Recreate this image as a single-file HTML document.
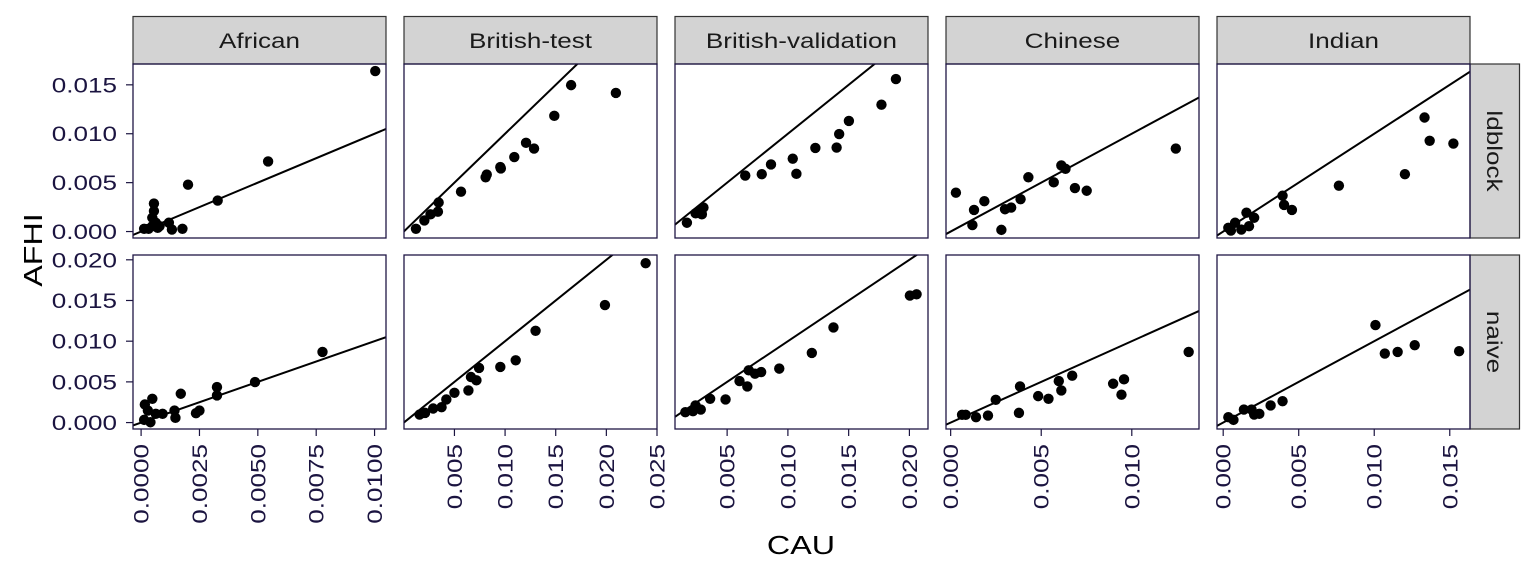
<!DOCTYPE html>
<html><head><meta charset="utf-8"><style>
html,body{margin:0;padding:0;background:#fff;}
svg{display:block;font-family:"Liberation Sans",Arial,sans-serif;}
</style></head><body>
<svg id="chart" width="1536" height="576" viewBox="0 0 1536 576"></svg>
<script>
const columns = ["African","British-test","British-validation","Chinese","Indian"];
const rows = ["ldblock","naive"];
const xTicks = [[0,0.0025,0.005,0.0075,0.01],[0.005,0.01,0.015,0.02,0.025],[0.005,0.01,0.015,0.02],[0,0.005,0.01],[0,0.005,0.01,0.015]];
const xTickLabels = [["0.0000","0.0025","0.0050","0.0075","0.0100"],["0.005","0.010","0.015","0.020","0.025"],["0.005","0.010","0.015","0.020"],["0.000","0.005","0.010"],["0.000","0.005","0.010","0.015"]];
const xDomains = [[-0.000347,0.01049],[0.00002,0.025],[0.00071,0.02153],[-0.000257,0.01371],[-0.00041,0.01634]];
const yTicks = [[0,0.005,0.01,0.015],[0,0.005,0.01,0.015,0.02]];
const yTickLabels = [["0.000","0.005","0.010","0.015"],["0.000","0.005","0.010","0.015","0.020"]];
const yDomains = [[-0.00066,0.01713],[-0.00079,0.02059]];
// points: [CAU, AFHI]
const r0c0 = [[.01003,.01641],[.00544,.00717],[.00201,.00479],[.00328,.00317],[.00055,.00286],[.00055,.0021],[.00048,.00141],[.00063,.0009],[.00071,.00038],[.00013,.00028],[.00032,.00028],[.00119,.0009],[.00132,.0002],[.00177,.00028],[.00079,.00055],[.00048,.00055]];
const r0c1 = [[.0012,.00028],[.00203,.00114],[.00264,.00176],[.00337,.00203],[.00344,.00297],[.00565,.00407],[.00808,.00555],[.00819,.00583],[.00953,.00659],[.00958,.00645],[.01091,.00762],[.01207,.00907],[.01286,.00848],[.01486,.01183],[.01652,.01497],[.02094,.01417]];
const r0c2 = [[.00169,.0009],[.00241,.00186],[.00275,.0021],[.00305,.00245],[.00292,.00176],[.00649,.00572],[.00785,.00586],[.00861,.00686],[.0104,.00745],[.0107,.0059],[.01226,.00855],[.01401,.00859],[.01422,.00997],[.01502,.01131],[.0177,.01297],[.01889,.01559]];
const r0c3 = [[.00029,.00397],[.0012,.00066],[.00129,.00221],[.00186,.0031],[.0028,.00017],[.003,.00228],[.00334,.00245],[.00386,.00331],[.00429,.00555],[.00569,.00503],[.00611,.00676],[.00634,.00641],[.00686,.00445],[.00751,.00417],[.01243,.00848]];
const r0c4 = [[.00034,.00038],[.00051,.0001],[.00079,.0009],[.0012,.0002],[.00154,.00193],[.00171,.00055],[.00205,.00141],[.00393,.00366],[.00403,.00272],[.00455,.00221],[.00766,.00469],[.01203,.00586],[.01333,.01166],[.01367,.00928],[.01524,.009]];
const r1c0 = [[.00013,.00033],[.00016,.00222],[.00048,.00292],[.0004,.00004],[.00029,.00148],[.00063,.00107],[.00092,.00107],[.00143,.00148],[.00147,.00058],[.0017,.00354],[.00235,.00115],[.0025,.00148],[.00325,.00333],[.00325,.00436],[.00488,.00498],[.00777,.00868]];
const r1c1 = [[.00156,.00099],[.0021,.00119],[.0029,.00173],[.00373,.00189],[.0042,.00284],[.005,.00366],[.00638,.00395],[.00663,.0056],[.00717,.00519],[.00743,.00671],[.00953,.00683],[.01105,.00765],[.01301,.01128],[.01986,.01444],[.02388,.01959]];
const r1c2 = [[.00156,.00128],[.00219,.0014],[.0024,.0021],[.00283,.0016],[.0036,.00292],[.00487,.00284],[.00602,.0051],[.00666,.00444],[.00678,.00642],[.00729,.00601],[.0078,.00621],[.00929,.00663],[.01197,.00856],[.01375,.01169],[.02004,.0156],[.02059,.01576]];
const r1c3 = [[.00063,.00095],[.00083,.00095],[.0014,.00066],[.00206,.00086],[.00249,.0028],[.00377,.00119],[.00383,.00444],[.00483,.00325],[.0054,.00292],[.00597,.0051],[.00611,.00395],[.00671,.00576],[.00897,.00477],[.00943,.00342],[.00957,.00531],[.01314,.00868]];
const r1c4 = [[.00034,.00066],[.00068,.00033],[.00137,.0016],[.00188,.0016],[.00205,.00099],[.00239,.00107],[.00314,.0021],[.00393,.00263],[.01008,.01198],[.0107,.00848],[.01155,.00868],[.01268,.00951],[.01562,.00877]];
const panelData = [[r0c0,r0c1,r0c2,r0c3,r0c4],[r1c0,r1c1,r1c2,r1c3,r1c4]];

const NS = "http://www.w3.org/2000/svg";
const svg = document.getElementById("chart");
function mk(tag, attrs, parent){ const e=document.createElementNS(NS,tag); for(const k in attrs) e.setAttribute(k,attrs[k]); (parent||svg).appendChild(e); return e; }
function widen(t, f){ const L=t.getComputedTextLength(); if(L>0){ t.setAttribute('textLength', (L*f).toFixed(1)); t.setAttribute('lengthAdjust','spacingAndGlyphs'); } }
const colX = [133,404,675,946,1217], panelW = 253;
const rowY = [64,255], panelH = 174;
const AX = "#1b1440";
const WF = 1.24;

columns.forEach((c,ci)=>{
  const g = mk("g",{});
  
  
  mk("rect",{x:colX[ci],y:16.5,width:panelW,height:47.5,fill:"#d3d3d3",stroke:"#333",'stroke-width':1.2},g);
  const t = mk("text",{x:colX[ci]+panelW/2,y:48,'text-anchor':'middle','font-size':21,fill:"#1a1a1a"},g);
  t.textContent = c;
  widen(t, WF);
});
rows.forEach((r,ri)=>{
  const g = mk("g",{});
  
  
  mk("rect",{x:1470,y:rowY[ri],width:49.5,height:panelH,fill:"#d3d3d3",stroke:"#333",'stroke-width':1.2},g);
  const cx=1494.5, cy=rowY[ri]+panelH/2;
  const t = mk("text",{x:cx,y:cy+7.5,'text-anchor':'middle','font-size':21,fill:"#1a1a1a",transform:`rotate(90 ${cx} ${cy})`},g);
  t.textContent = r;
  widen(t, WF);
});

rows.forEach((r,ri)=>{
  const yd=yDomains[ri], y0=rowY[ri];
  const ys = v => y0 + panelH - (v-yd[0])/(yd[1]-yd[0])*panelH;
  const ya = mk("g",{});
  
  
  yTicks[ri].forEach((v,i)=>{
    mk("line",{x1:126,x2:133,y1:ys(v),y2:ys(v),stroke:AX,'stroke-width':1.2},ya);
    const t=mk("text",{x:117,y:ys(v)+7.5,'text-anchor':'end','font-size':21,fill:AX},ya);
    t.textContent=yTickLabels[ri][i];
    widen(t, WF);
  });
  columns.forEach((c,ci)=>{
    const xd=xDomains[ci], x0=colX[ci];
    const xs = v => x0 + (v-xd[0])/(xd[1]-xd[0])*panelW;
    const g = mk("g",{});
    
    
    const clipId='clip'+ri+ci;
    const cp=mk("clipPath",{id:clipId},g);
    mk("rect",{x:x0,y:y0,width:panelW,height:panelH},cp);
    const lo=Math.min(xd[0],yd[0]), hi=Math.max(xd[1],yd[1]);
    const ln=mk("line",{x1:xs(lo),y1:ys(lo),x2:xs(hi),y2:ys(hi),stroke:"#000",'stroke-width':2,'clip-path':`url(#${clipId})`},g);
    
    
    panelData[ri][ci].forEach(p=>{
      const d=mk("circle",{cx:xs(p[0]),cy:ys(p[1]),r:5.2,fill:"#000"},g);
      
      
    });
    mk("rect",{x:x0,y:y0,width:panelW,height:panelH,fill:"none",stroke:"#1f1645",'stroke-width':1.3},g);
    if(ri===1){
      const xa=mk("g",{});
      
      
      xTicks[ci].forEach((v,i)=>{
        const x=xs(v);
        mk("line",{x1:x,x2:x,y1:429,y2:436,stroke:AX,'stroke-width':1.2},xa);
        const t=mk("text",{x:x+7.5,y:444,'text-anchor':'end','font-size':21,fill:AX,transform:`rotate(-90 ${x+7.5} 444)`},xa);
        t.textContent=xTickLabels[ci][i];
        widen(t, WF);
      });
    }
  });
});
const yt=mk("text",{x:42,y:250,'text-anchor':'middle','font-size':26,fill:"#000",transform:"rotate(-90 42 250)"});


yt.textContent="AFHI";
widen(yt, WF);
const xt=mk("text",{x:801,y:554,'text-anchor':'middle','font-size':26,fill:"#000"});


xt.textContent="CAU";
widen(xt, WF);
</script>
</body></html>
